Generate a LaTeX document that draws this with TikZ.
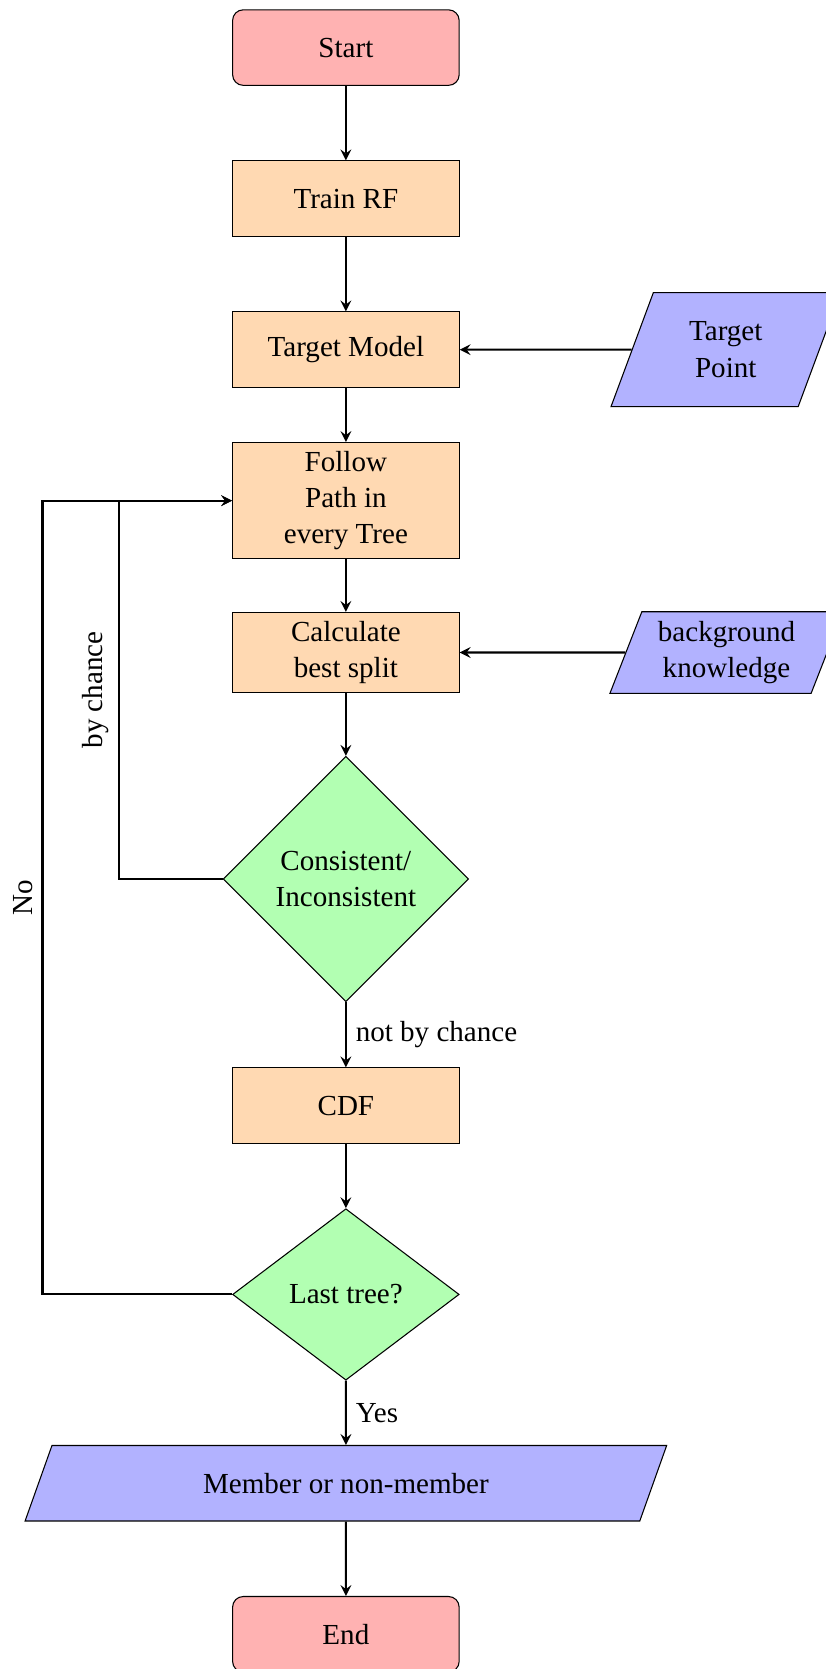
\documentclass[tikz,border=0pt]{standalone}
\usepackage{fontspec}
\setmainfont{Liberation Serif}
\usetikzlibrary{shapes.geometric,arrows}

\begin{document}
\begin{tikzpicture}[
  font=\fontsize{10.95}{13.6}\selectfont,
  startstop/.style={rectangle, rounded corners, minimum width=3cm, minimum height=1cm, align=center, draw=black, fill=red!30},
  process/.style={rectangle, minimum width=3cm, minimum height=1cm, align=center, draw=black, fill=orange!30},
  io/.style={trapezium, trapezium left angle=70, trapezium right angle=110, trapezium stretches=true, align=center, draw=black, fill=blue!30},
  decision/.style={diamond, aspect=1.3, inner sep=0pt, align=center, draw=black, fill=green!30},
  arrow/.style={thick,->,>=stealth}]
  \useasboundingbox (0,0) rectangle (10.93,-22.1);

  % Main column
  \node[startstop] (start) at (4.58,-0.63) {Start};
  \node[process] (train) at (4.58,-2.63) {Train RF};
  \node[process] (tmodel) at (4.58,-4.63) {Target Model};
  \node[process] (follow) at (4.58,-6.63) {Follow\\Path in\\every Tree};
  \node[process] (calc) at (4.58,-8.64) {Calculate\\best split};
  \node[decision, minimum width=3.25cm, minimum height=3.25cm] (cons) at (4.58,-11.64) {Consistent/\\Inconsistent};
  \node[process] (cdf) at (4.58,-14.64) {CDF};
  \node[decision, minimum width=3cm, minimum height=2.27cm] (last) at (4.58,-17.14) {Last tree?};
  \node[io, minimum width=8.5cm, minimum height=1cm] (result) at (4.58,-19.64) {Member or non-member};
  \node[startstop] (end) at (4.58,-21.64) {End};

  % Inputs on the right
  \node[io, minimum width=3.04cm, minimum height=1.51cm] (tpoint) at (9.61,-4.63) {Target\\Point};
  \node[io, minimum width=3.1cm, minimum height=1.08cm] (bgknow) at (9.62,-8.64) {background\\knowledge};

  % Arrows
  \draw[arrow] (start) -- (train);
  \draw[arrow] (train) -- (tmodel);
  \draw[arrow] (tpoint) -- (tmodel);
  \draw[arrow] (tmodel) -- (follow);
  \draw[arrow] (follow) -- (calc);
  \draw[arrow] (bgknow) -- (calc);
  \draw[arrow] (calc) -- (cons);
  \draw[arrow] (cons) -- node[right] {not by chance} (cdf);
  \draw[arrow] (cdf) -- (last);
  \draw[arrow] (last) -- node[right] {Yes} (result);
  \draw[arrow] (result) -- (end);

  % Loops back to the tree walk
  \draw[arrow] (cons.west) -- ++(-1.375,0) |- node[pos=0.25, above, rotate=90] {by chance} (follow.west);
  \draw[arrow] (last.west) -- ++(-2.51,0) |- node[pos=0.25, above, rotate=90] {No} (follow.west);
\end{tikzpicture}
\end{document}
